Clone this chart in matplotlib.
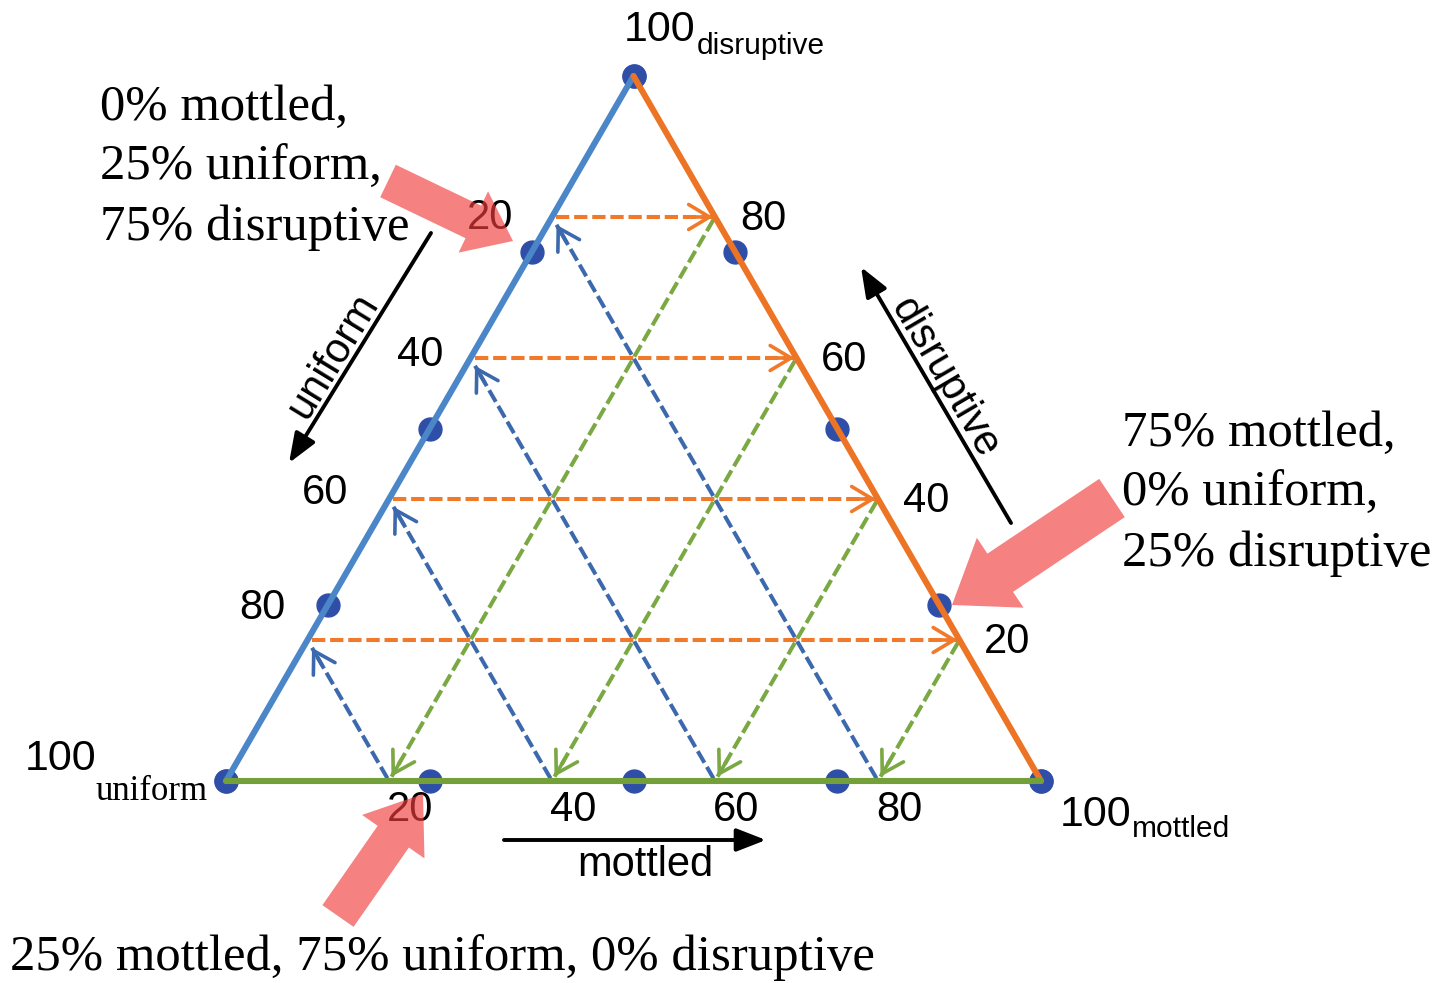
import matplotlib
matplotlib.use("Agg")
import matplotlib.pyplot as plt
from matplotlib.patches import FancyArrow

# ---------------- data ----------------
tick_values = [20, 40, 60, 80]                 # grid / tick percentages
marker_levels = [0, 25, 50, 75, 100]           # positions of the blue dots along each edge
corner_labels = ["uniform", "mottled", "disruptive"]
axis_names = ["uniform", "mottled", "disruptive"]
note_left = "0% mottled,\n25% uniform,\n75% disruptive"
note_right = "75% mottled,\n0% uniform,\n25% disruptive"
note_bottom = "25% mottled, 75% uniform, 0% disruptive"

# ---------------- layout ----------------
W, H = 1448, 983
U = (226.0, 781.0)   # 100% uniform corner (pixels)
M = (1041.0, 781.0)  # 100% mottled corner
D = (633.5, 76.0)    # 100% disruptive corner


def tern(m, d):
    """mottled %, disruptive % -> pixel position"""
    x = U[0] + m / 100 * (M[0] - U[0]) + d / 100 * (D[0] - U[0])
    y = U[1] + m / 100 * (M[1] - U[1]) + d / 100 * (D[1] - U[1])
    return x, y


C_LEFT = "#4a86c8"
C_RIGHT = "#ec7424"
C_BOTTOM = "#74a03a"
C_DOT = "#2f4ea8"
C_OR_D = "#f07a2a"
C_BL_D = "#3c69ad"
C_GR_D = "#7aa842"
C_PINK = (0.94, 0.24, 0.24)
SANS = "Liberation Sans"
SERIF = "Liberation Serif"

fig = plt.figure(figsize=(W / 100, H / 100), dpi=100)
ax = fig.add_axes([0, 0, 1, 1])
ax.set_xlim(0, W)
ax.set_ylim(H, 0)
ax.axis("off")


def dashed_arrow(p0, p1, color, shrink0=0.0, shrink1=0.0):
    dx, dy = p1[0] - p0[0], p1[1] - p0[1]
    L = (dx ** 2 + dy ** 2) ** 0.5
    ux, uy = dx / L, dy / L
    a = (p0[0] + ux * shrink0, p0[1] + uy * shrink0)
    b = (p1[0] - ux * shrink1, p1[1] - uy * shrink1)
    ax.plot([a[0], b[0]], [a[1], b[1]], color=color, lw=2.9,
            linestyle=(0, (3.3, 1.2)), solid_capstyle="butt", zorder=2)
    ax.annotate("", xy=b, xytext=(b[0] - ux * 20, b[1] - uy * 20),
                arrowprops=dict(arrowstyle="->,head_length=0.75,head_width=0.45",
                                color=color, lw=2.6, shrinkA=0, shrinkB=0,
                                mutation_scale=20), zorder=2)


# dashed grid arrows
for v in tick_values:
    # orange: constant disruptive, left edge -> right edge
    dashed_arrow(tern(0, v), tern(100 - v, v), C_OR_D, shrink0=4, shrink1=2)
    # blue: constant uniform, bottom -> left edge
    dashed_arrow(tern(v, 0), tern(0, v), C_BL_D, shrink0=3, shrink1=9)
    # green: constant mottled, right edge -> bottom
    dashed_arrow(tern(100 - v, v), tern(100 - v, 0), C_GR_D, shrink0=3, shrink1=5)

# dots (under the edges)
dots = []
for t in marker_levels:
    dots.append(tern(0, t))            # left edge
    dots.append(tern(t, 0))            # bottom edge
    dots.append(tern(100 - t, t))      # right edge
ax.plot([p[0] for p in dots], [p[1] for p in dots], "o", color=C_DOT,
        markersize=16.5, zorder=3)

# triangle edges
for (p0, p1, c) in [(tern(0, 0), tern(0, 100), C_LEFT),
                    (tern(100, 0), tern(0, 100), C_RIGHT),
                    (tern(0, 0), tern(100, 0), C_BOTTOM)]:
    ax.plot([p0[0], p1[0]], [p0[1], p1[1]], color=c, lw=4.4,
            solid_capstyle="round", zorder=4)

# tick labels
NUM_FS = 30
left_offsets = {80: (-62, 1), 60: (-50, -3), 40: (-64, -6), 20: (-45, -32)}
for v in tick_values:
    # left edge: uniform value
    x, y = tern(0, v)
    ox, oy = left_offsets[v]
    ax.text(x + ox, y + oy, str(100 - v), fontsize=NUM_FS, family=SANS,
            ha="center", va="center", zorder=5)
    # right edge: disruptive value
    x, y = tern(100 - v, v)
    ax.text(x + 48, y + 2, str(v), fontsize=NUM_FS, family=SANS,
            ha="center", va="center", zorder=5)
    # bottom edge: mottled value
    x, y = tern(v, 0)
    ax.text(x + 21, y + 29, str(v), fontsize=NUM_FS, family=SANS,
            ha="center", va="center", zorder=5)

# corner labels
ax.text(695, 30, "100", fontsize=31, family=SANS, ha="right", va="center")
ax.text(697, 46, corner_labels[2], fontsize=21.5, family=SANS, ha="left", va="center")
ax.text(96, 759, "100", fontsize=31, family=SANS, ha="right", va="center")
ax.text(96, 792, corner_labels[0], fontsize=25, family=SERIF,
        ha="left", va="center")
ax.text(1131, 815, "100", fontsize=31, family=SANS, ha="right", va="center")
ax.text(1132, 829, corner_labels[1], fontsize=21.5, family=SANS, ha="left", va="center")

# axis direction arrows
arrow_kw = dict(arrowstyle="-|>,head_length=0.9,head_width=0.35", color="black",
                lw=2.8, shrinkA=0, shrinkB=0, mutation_scale=20)
ax.annotate("", xy=(289, 463), xytext=(431, 233), arrowprops=arrow_kw)
ax.text(333, 356, axis_names[0], fontsize=30, family=SANS, rotation=58.5,
        ha="center", va="center", rotation_mode="anchor")
ax.annotate("", xy=(861, 267), xytext=(1011, 523), arrowprops=arrow_kw)
ax.text(945, 378, axis_names[2], fontsize=30, family=SANS, rotation=-59.6,
        ha="center", va="center", rotation_mode="anchor")
ax.annotate("", xy=(766, 840), xytext=(504, 840), arrowprops=arrow_kw)
ax.text(645, 865, axis_names[1], fontsize=30, family=SANS, ha="center", va="center")

# notes
NOTE_FS = 36.5
ax.text(100, 168, note_left, fontsize=NOTE_FS, family=SERIF, ha="left",
        va="center", linespacing=1.38)
ax.text(1122, 494, note_right, fontsize=NOTE_FS, family=SERIF, ha="left",
        va="center", linespacing=1.38)
ax.text(10, 958, note_bottom, fontsize=NOTE_FS, family=SERIF, ha="left", va="center")


def pink_arrow(tail, tip, width, head_width, head_length):
    ax.add_patch(FancyArrow(tail[0], tail[1], tip[0] - tail[0], tip[1] - tail[1],
                            width=width, head_width=head_width,
                            head_length=head_length, length_includes_head=True,
                            color=C_PINK, alpha=0.65, lw=0, zorder=6))


pink_arrow((388, 181), (513, 241), 36, 68, 44)
pink_arrow((1112, 498), (952, 605), 46, 84, 58)
pink_arrow((338, 916), (423, 794), 38, 76, 52)

fig.savefig("out.png", dpi=100)
